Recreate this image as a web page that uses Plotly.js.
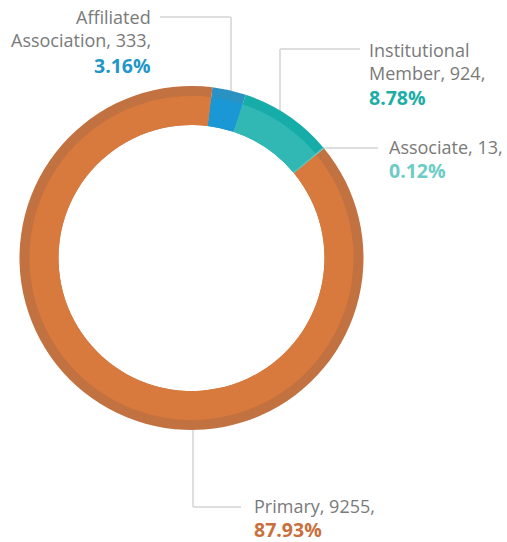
<!DOCTYPE html>
<html>
<head>
<meta charset="utf-8">
<script src="https://cdn.plot.ly/plotly-3.0.1.min.js"></script>
<style>html,body{margin:0;padding:0;background:#fff;}#chart{width:507px;height:542px;}</style>
</head>
<body>
<div id="chart"></div>
<script>
// ---- data ----
const labels = ["Affiliated Association", "Institutional Member", "Associate", "Primary"];
const labelLines = [["Affiliated", "Association, 333,"], ["Institutional", "Member, 924,"], ["Associate, 13,"], ["Primary, 9255,"]];
const values = [333, 924, 13, 9255];

// ---- styles ----
const innerColors = ["#1a98d6", "#31b8b4", "#5cc8c2", "#d87a3e"];
const outerColors = ["#2a92c2", "#16aca7", "#4fc0ba", "#c27140"];
const pctColors = ["#2396c8", "#1badA6", "#6dccc6", "#c8703c"];

const W = 507, H = 542;
const cx = 191.5, cy = 258, R = 172, Rb = 162, Rh = 133;
function px(x){ return x / W; }
function py(y){ return 1 - y / H; }
function dom(r){ return {x:[px(cx - r), px(cx + r)], y:[py(cy + r), py(cy - r)]}; }

const total = values.reduce((a,b)=>a+b,0);
const pcts = values.map(v => (v/total*100).toFixed(2) + "%");

const common = {
  type: "pie", labels: labels, values: values, sort: false,
  direction: "clockwise", rotation: 7, textinfo: "none",
  hoverinfo: "none", showlegend: false
};
const traces = [
  Object.assign({}, common, {domain: dom(R), hole: Rh/R, marker:{colors: outerColors, line:{width:0}}}),
  Object.assign({}, common, {domain: dom(Rb), hole: Rh/Rb, marker:{colors: innerColors, line:{width:0}}})
];

// label placement (pixels): x edge, line centres
const place = [
  {x:153, ys:[17, 40, 65], anchor:"right", line:[[160,17],[231,17],[231,92]]},
  {x:367, ys:[50, 72.5, 97], anchor:"left", line:[[360,49],[280,49],[280,112]]},
  {x:387, ys:[147.5, 170.5], anchor:"left", line:[[378,148],[322,148]]},
  {x:252, ys:[506, 529.5], anchor:"left", line:[[241,507],[193,507],[193,428]]}
];

const annotations = [];
place.forEach((p,i) => {
  const lines = labelLines[i];
  lines.forEach((t,k) => {
    annotations.push({xref:"paper", yref:"paper", x:px(p.x), y:py(p.ys[k]), xanchor:p.anchor, yanchor:"middle",
      align:p.anchor, showarrow:false, text:t,
      font:{family:"Open Sans, sans-serif", size:18, color:"#7a7a7a"}});
  });
  annotations.push({xref:"paper", yref:"paper", x:px(p.x), y:py(p.ys[lines.length]), xanchor:p.anchor, yanchor:"middle",
    align:p.anchor, showarrow:false, text:"<b>" + pcts[i] + "</b>",
    font:{family:"Open Sans, sans-serif", size:19.5, color:pctColors[i]}});
});

const shapes = [];
place.forEach(p => {
  for (let k = 0; k < p.line.length - 1; k++) {
    shapes.push({type:"line", xref:"paper", yref:"paper", layer:"below",
      x0:px(p.line[k][0]), y0:py(p.line[k][1]), x1:px(p.line[k+1][0]), y1:py(p.line[k+1][1]),
      line:{color:"#dedede", width:2}});
  }
});

Plotly.newPlot("chart", traces, {
  width: W, height: H, margin:{l:0,r:0,t:0,b:0},
  paper_bgcolor:"#fff", plot_bgcolor:"#fff",
  annotations: annotations, shapes: shapes
}, {staticPlot:true, displayModeBar:false});
</script>
</body>
</html>
